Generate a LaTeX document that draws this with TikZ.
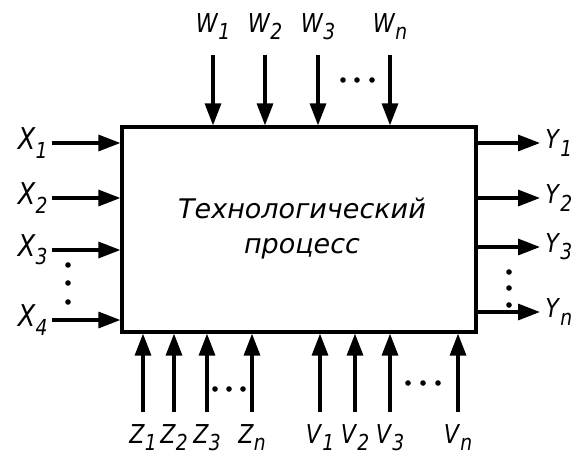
\documentclass[tikz,border=0pt]{standalone}
\usepackage{fontspec}
\setmainfont{DejaVu Sans}
\newfontfamily\narrowfont[FakeStretch=0.85]{DejaVu Sans}
\usetikzlibrary{arrows.meta}

% signal label: italic letter with lowered index
\newcommand{\sig}[2]{\textit{#1}\raisebox{-0.5ex}{\fontsize{11}{12}\selectfont\textit{#2}}}

\begin{document}
\begin{tikzpicture}[x=0.5pt,y=-0.5pt,
  flow/.style={line width=1.6pt,-{Triangle[length=11pt,width=8pt]}},
  lbl/.style={inner sep=0pt,font=\narrowfont\fontsize{13}{15}\selectfont},
  bigl/.style={inner sep=0pt,font=\narrowfont\fontsize{15}{17}\selectfont}]
\useasboundingbox (0,0) rectangle (581,465);

% Process box
\node[draw,line width=1.6pt,minimum width=177pt,minimum height=102.5pt,inner sep=0pt] (proc) at (299,229.5) {};
\node[align=center,font=\itshape\fontsize{13.5}{17.5}\selectfont] (title) at (302,229) {Технологический\\процесс};

% Inputs X
\foreach \i/\y in {1/143,2/198,3/250,4/320}
{
\node[bigl,anchor=east] (x\i) at (48,\y) {\sig{X}{\i}};
\draw[flow,shorten <=2pt] (x\i.east) -- (x\i.east -| proc.west);
}
\foreach \y in {265,283,302}
\fill (68,\y) circle (1.4pt);

% Outputs Y
\foreach \i/\s/\y in {1/1/143,2/2/198,3/3/247,4/n/312}
{
\node[lbl,anchor=west] (y\i) at (545,\y) {\sig{Y}{\s}};
\draw[flow,shorten >=2.5pt] (y\i.west -| proc.east) -- (y\i.west);
}
\foreach \y in {272,288,305}
\fill (509,\y) circle (1.4pt);

% Disturbances W
\foreach \i/\s/\x in {1/1/213,2/2/265,3/3/318,4/n/390}
{
\node[lbl,anchor=south] (w\i) at (\x,40) {\sig{W}{\s}};
\draw[flow,shorten <=7.5pt] (w\i.south) -- (w\i.south |- proc.north);
}
\foreach \x in {343,357,372}
\fill (\x,80) circle (1.4pt);

% Controls Z
\foreach \i/\s/\x in {1/1/143,2/2/174,3/3/207,4/n/252}
{
\node[lbl,anchor=north] (z\i) at (\x,424) {\sig{Z}{\s}};
\draw[flow,shorten <=6pt] (z\i.north) -- (z\i.north |- proc.south);
}
\foreach \x in {215,229,243}
\fill (\x,389) circle (1.4pt);

% Controls V
\foreach \i/\s/\x in {1/1/320,2/2/355,3/3/390,4/n/458}
{
\node[lbl,anchor=north] (v\i) at (\x,424) {\sig{V}{\s}};
\draw[flow,shorten <=6pt] (v\i.north) -- (v\i.north |- proc.south);
}
\foreach \x in {408,423,438}
\fill (\x,383) circle (1.4pt);

\end{tikzpicture}
\end{document}
